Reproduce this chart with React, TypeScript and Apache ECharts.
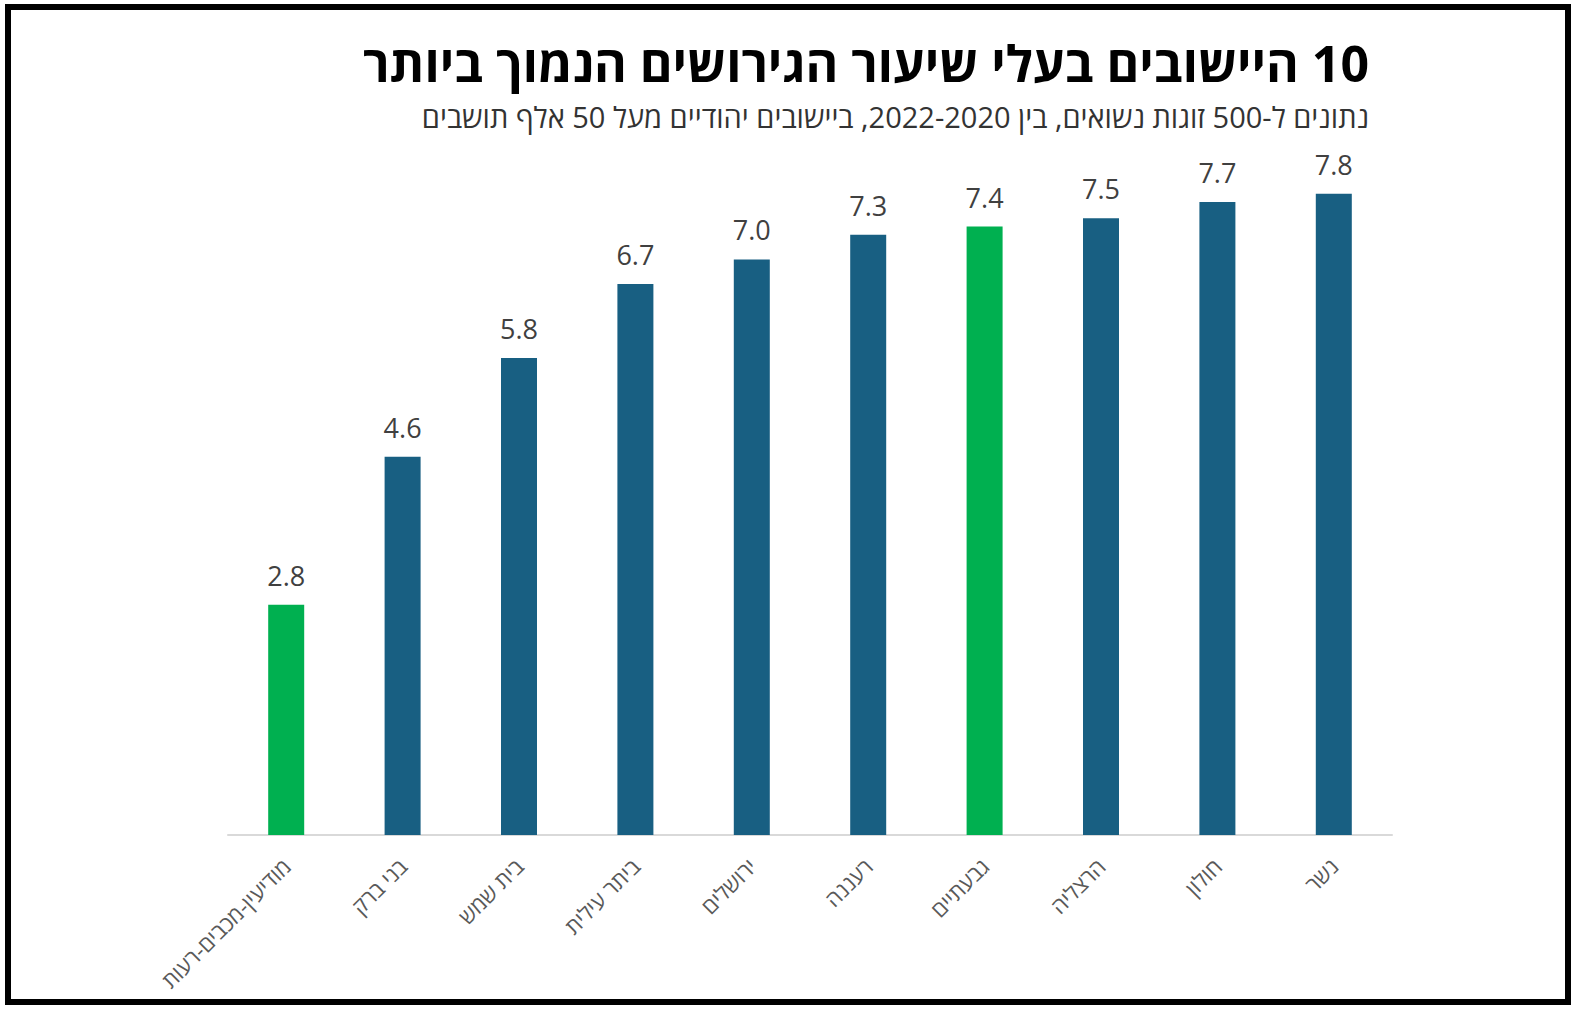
import React, { useEffect, useRef } from "react";
import * as echarts from "echarts";

const titleText = "10 היישובים בעלי שיעור הגירושים הנמוך ביותר";
const subtitleText = "נתונים ל-500 זוגות נשואים, בין 2022-2020, ביישובים יהודיים מעל 50 אלף תושבים";

const categories = [
  "מודיעין-מכבים-רעות",
  "בני ברק",
  "בית שמש",
  "ביתר עילית",
  "ירושלים",
  "רעננה",
  "גבעתיים",
  "הרצליה",
  "חולון",
  "נשר",
];
const values = [2.8, 4.6, 5.8, 6.7, 7.0, 7.3, 7.4, 7.5, 7.7, 7.8];
const highlighted = ["מודיעין-מכבים-רעות", "גבעתיים"];

const FONT = "'Open Sans', 'DejaVu Sans', sans-serif";
const BLUE = "#185F82";
const GREEN = "#00B050";
const rtl = (s: string) => "\u202B" + s + "\u202C";

export default function App() {
  const ref = useRef<HTMLDivElement>(null);
  useEffect(() => {
    document.body.style.margin = "0";
    if (!ref.current) return;
    const chart = echarts.init(ref.current, null, { renderer: "svg" });
    chart.setOption({
      animation: false,
      backgroundColor: "#ffffff",
      title: [
        {
          text: rtl(titleText),
          right: 212,
          top: 33,
          textStyle: { fontFamily: FONT, fontSize: 50, fontWeight: "bold", color: "#000000" },
        },
        {
          text: rtl(subtitleText),
          right: 212,
          top: 97,
          textStyle: { fontFamily: FONT, fontSize: 29, fontWeight: "normal", color: "#333333" },
        },
      ],
      graphic: [
        {
          type: "rect",
          shape: { x: 8, y: 7, width: 1560, height: 995 },
          style: { fill: "none", stroke: "#000000", lineWidth: 6 },
          silent: true,
        },
      ],
      grid: { left: 228, right: 194, top: 95, bottom: 178 },
      xAxis: {
        type: "category",
        data: categories,
        axisLine: { show: true, lineStyle: { color: "#D9D9D9", width: 2 } },
        axisTick: { show: false },
        axisLabel: {
          rotate: 45,
          interval: 0,
          margin: 27,
          fontFamily: FONT,
          fontSize: 22,
          color: "#595959",
        },
      },
      yAxis: {
        type: "value",
        min: 0,
        max: 9,
        show: false,
        splitLine: { show: false },
      },
      series: [
        {
          type: "bar",
          barWidth: 36,
          data: values.map((v, i) => ({
            value: v,
            itemStyle: { color: highlighted.includes(categories[i]) ? GREEN : BLUE },
          })),
          label: {
            show: true,
            position: "top",
            distance: 16,
            formatter: (p: any) => Number(p.value).toFixed(1),
            fontFamily: FONT,
            fontSize: 27,
            color: "#404040",
          },
        },
      ],
    });
    return () => chart.dispose();
  }, []);
  return <div ref={ref} style={{ width: 1586, height: 1013 }} />;
}
